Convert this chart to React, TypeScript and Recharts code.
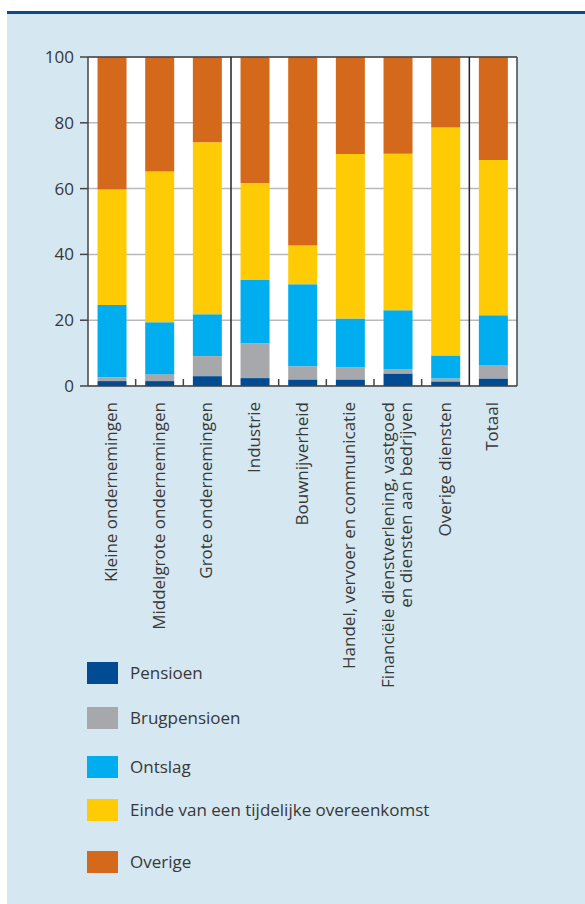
import React from "react";
import {
  BarChart,
  Bar,
  XAxis,
  YAxis,
  CartesianGrid,
  ReferenceLine,
} from "recharts";

const categories = [
  "Kleine ondernemingen",
  "Middelgrote ondernemingen",
  "Grote ondernemingen",
  "Industrie",
  "Bouwnijverheid",
  "Handel, vervoer en communicatie",
  "Financiële dienstverlening, vastgoed\nen diensten aan bedrijven",
  "Overige diensten",
  "Totaal",
];

const pensioen = [1.5, 1.5, 3.0, 2.4, 2.0, 2.0, 3.8, 1.4, 2.3];
const brugpensioen = [1.2, 2.1, 6.1, 10.6, 4.0, 3.7, 1.3, 0.9, 4.1];
const ontslag = [21.9, 15.8, 12.7, 19.2, 24.9, 14.8, 17.9, 7.0, 15.1];
const einde = [35.1, 45.8, 52.3, 29.5, 11.8, 50.0, 47.6, 69.3, 47.2];
const overige = [40.3, 34.8, 25.9, 38.3, 57.3, 29.5, 29.4, 21.4, 31.3];

const yTicks = [0, 20, 40, 60, 80, 100];
// a group starts at these categories (full line) / a bar starts here (small mark)
const groupStarts = [3, 8];
const barStarts = [1, 2, 4, 5, 6, 7];

const series = [
  { key: "pensioen", name: "Pensioen", color: "#004b91" },
  { key: "brugpensioen", name: "Brugpensioen", color: "#a7a8ab" },
  { key: "ontslag", name: "Ontslag", color: "#00aeef" },
  { key: "einde", name: "Einde van een tijdelijke overeenkomst", color: "#ffcb05" },
  { key: "overige", name: "Overige", color: "#d4691b" },
];

const legendTops = [651, 696, 745, 788, 840];

const data = categories.map((name, i) => ({
  name,
  pensioen: pensioen[i],
  brugpensioen: brugpensioen[i],
  ontslag: ontslag[i],
  einde: einde[i],
  overige: overige[i],
}));

const FONT = "'Open Sans', 'Noto Sans', sans-serif";
const TEXT = "#383838";
const AXIS = "#444";
const FS = 17;

function CatTick(props: any) {
  const { x, y, payload } = props;
  const lines = String(payload.value).split("\n");
  const n = lines.length;
  return (
    <g transform={`translate(${x},${y})`}>
      {lines.map((line, i) => (
        <text
          key={i}
          transform={`translate(${5 - ((n - 1) * 18) / 2 + i * 18},16) rotate(-90)`}
          textAnchor="end"
          fill={TEXT}
          fontSize={FS}
          fontFamily={FONT}
        >
          {line}
        </text>
      ))}
    </g>
  );
}

// only the bottom few pixels of a full-height reference line
function ShortMark(p: any) {
  const bottom = Math.max(Number(p.y1), Number(p.y2));
  return (
    <line x1={p.x1} x2={p.x1} y1={bottom} y2={bottom - 7} stroke={AXIS} strokeWidth={1.5} />
  );
}

export default function App() {
  return (
    <div style={{ position: "relative", width: 585, height: 904 }}>
      <style>{`body{margin:0;}`}</style>
      <div
        style={{
          position: "absolute",
          left: 7,
          top: 11,
          width: 578,
          height: 3,
          background: "#0b4a8b",
        }}
      />
      <div
        style={{
          position: "absolute",
          left: 7,
          top: 14,
          width: 578,
          height: 890,
          background: "#d5e7f1",
        }}
      />
      <div style={{ position: "absolute", left: 7, top: 11 }}>
        <BarChart
          width={578}
          height={893}
          data={data}
          margin={{ top: 46, right: 0, left: 0, bottom: 218 }}
          barCategoryGap="20%"
        >
          <CartesianGrid
            vertical={false}
            stroke="#b9b9b9"
            strokeWidth={1.5}
            fill="#ffffff"
          />
          {series.map((s) => (
            <Bar
              key={s.key}
              dataKey={s.key}
              name={s.name}
              stackId="a"
              fill={s.color}
              isAnimationActive={false}
            />
          ))}
          <XAxis
            dataKey="name"
            interval={0}
            tickLine={false}
            tickSize={0}
            tickMargin={0}
            height={300}
            stroke={AXIS}
            strokeWidth={1.5}
            tick={<CatTick />}
          />
          <YAxis
            domain={[0, 100]}
            ticks={yTicks}
            width={81}
            tickSize={8}
            tickMargin={6}
            stroke={AXIS}
            strokeWidth={1.5}
            tick={{ fill: TEXT, fontSize: FS, fontFamily: FONT }}
          />
          <YAxis
            yAxisId="right"
            orientation="right"
            domain={[0, 100]}
            ticks={yTicks}
            width={68}
            tickSize={8}
            tickMargin={6}
            stroke={AXIS}
            strokeWidth={1.5}
            tick={{ fill: TEXT, fontSize: FS, fontFamily: FONT }}
          />
          <ReferenceLine y={100} stroke={AXIS} strokeWidth={1.5} />
          {groupStarts.map((i) => (
            <ReferenceLine
              key={`g${i}`}
              x={categories[i]}
              position="start"
              stroke="#222"
              strokeWidth={1.5}
            />
          ))}
          {barStarts.map((i) => (
            <ReferenceLine
              key={`b${i}`}
              x={categories[i]}
              position="start"
              stroke={AXIS}
              shape={ShortMark}
            />
          ))}
        </BarChart>
      </div>
      <div style={{ position: "absolute", left: 7, top: 11 }}>
        {series.map((s, i) => (
          <div
            key={s.key}
            style={{
              position: "absolute",
              left: 80,
              top: legendTops[i],
              display: "flex",
              alignItems: "center",
              whiteSpace: "nowrap",
            }}
          >
            <div style={{ width: 31, height: 22, background: s.color }} />
            <span
              style={{
                marginLeft: 12,
                fontFamily: FONT,
                fontSize: FS,
                color: TEXT,
                lineHeight: "22px",
              }}
            >
              {s.name}
            </span>
          </div>
        ))}
      </div>
    </div>
  );
}
